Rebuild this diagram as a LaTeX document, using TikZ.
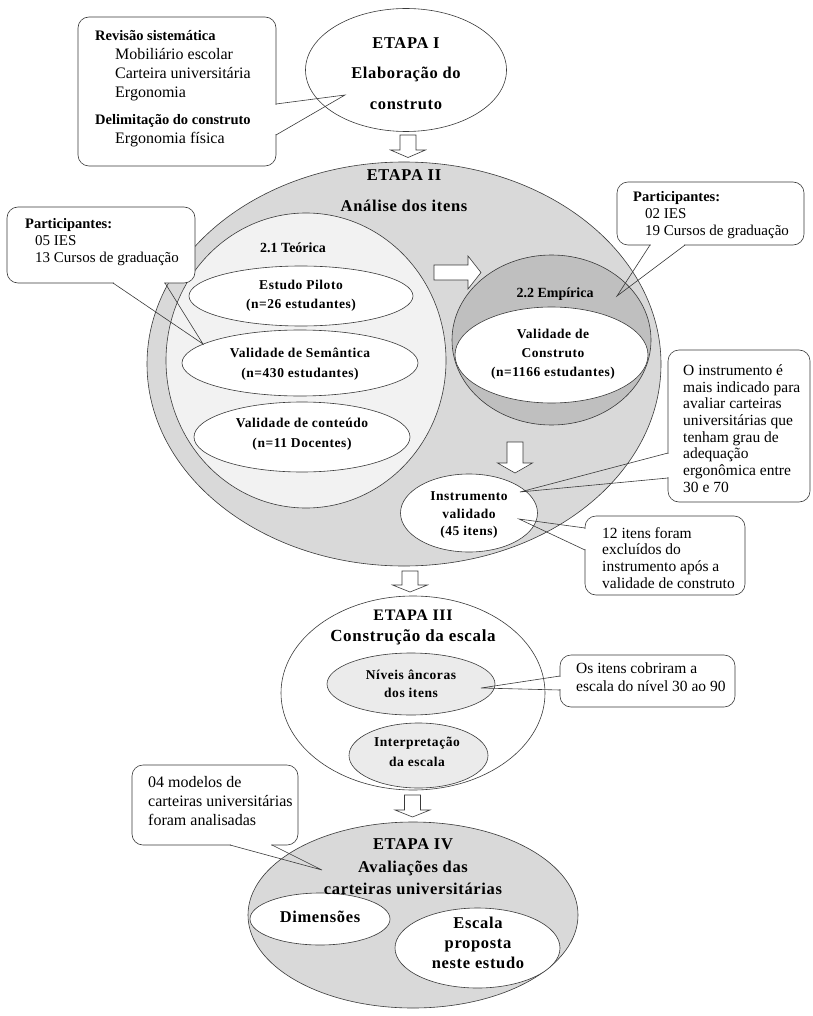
\documentclass[tikz,border=0pt]{standalone}
\usepackage{fontspec}
\setmainfont{Liberation Serif}
\newfontfamily\spacedserif[LetterSpace=4]{Liberation Serif}
\usetikzlibrary{shapes.geometric}

\definecolor{stagegray}{HTML}{D9D9D9}
\definecolor{theorygray}{HTML}{F2F2F2}
\definecolor{empgray}{HTML}{BFBFBF}
\definecolor{anchorgray}{HTML}{EBEBEB}
\definecolor{linegray}{HTML}{3A3A3A}

\tikzset{
  blob/.style={ellipse, draw=linegray, line width=0.6pt, inner sep=0pt},
  bigtxt/.style={font=\spacedserif\bfseries\fontsize{16.5}{#1}\selectfont, align=center, inner sep=0pt},
  bigtxt/.default=20,
  midtxt/.style={font=\spacedserif\bfseries\fontsize{13.5}{#1}\selectfont, align=center, inner sep=0pt},
  midtxt/.default=19,
  notetxt/.style={font=\fontsize{15.5}{#1}\selectfont, align=left, inner sep=0pt, anchor=west},
  notetxt/.default=16.8,
  partnote/.style={font=\fontsize{15}{17}\selectfont, align=left, inner sep=0pt, anchor=west},
  widenote/.style={font=\fontsize{16}{19}\selectfont, align=left, inner sep=0pt, anchor=west},
  notebox/.style={draw=linegray, fill=white, line width=0.6pt, rounded corners=11pt},
  pointer/.style={draw=linegray, line width=0.6pt, line join=miter},
  gapline/.style={draw=white, line width=1.6pt},
  hollow/.style={draw=linegray, fill=white, line width=0.6pt, line join=miter},
}

% hollow downward block arrow: x, top, head base, tip
\newcommand{\hollowdown}[4]{%
  \draw[hollow] (#1-8,#2) -- (#1+8,#2) -- (#1+8,#3) -- (#1+17.5,#3)
    -- (#1,#4) -- (#1-17.5,#3) -- (#1-8,#3) -- cycle;}
% bold heading line inside the notes
\newcommand{\notehead}[1]{{\fontsize{14.5}{19}\selectfont\bfseries #1}}

\begin{document}
\begin{tikzpicture}[x=1pt,y=-1pt]
\useasboundingbox (0,0) rectangle (812,1016);
\fill[white] (0,0) rectangle (812,1016);

% ---------- stage I ----------
\node[blob, fill=white, minimum width=201pt, minimum height=123pt] (etapaI) at (406,70) {};

% ---------- stage II ----------
\node[blob, fill=stagegray, minimum width=514pt, minimum height=404pt] (etapaII) at (404,364) {};
\node[blob, fill=theorygray, minimum width=280pt, minimum height=295pt] (teorica) at (306,360.5) {};
\node[blob, fill=white, minimum width=224pt, minimum height=60pt] (piloto) at (301,296) {};
\node[blob, fill=white, minimum width=236pt, minimum height=66pt] (semantica) at (300,363) {};
\node[blob, fill=white, minimum width=216pt, minimum height=70pt] (conteudo) at (302,437) {};
\node[blob, fill=empgray, minimum width=199pt, minimum height=170pt] (empirica) at (551.5,340) {};
\node[blob, fill=white, minimum width=193pt, minimum height=96pt] (construto) at (551.5,355) {};
\node[blob, fill=white, minimum width=137pt, minimum height=78pt] (instrumento) at (469,513) {};

% ---------- stage III ----------
\node[blob, fill=white, minimum width=264pt, minimum height=194pt] (etapaIII) at (413,693) {};
\node[blob, fill=anchorgray, minimum width=168pt, minimum height=62pt] (niveis) at (411,684) {};
\node[blob, fill=anchorgray, minimum width=139pt, minimum height=65pt] (interp) at (418.5,755.5) {};

% ---------- stage IV ----------
\node[blob, fill=stagegray, minimum width=330pt, minimum height=186pt] (etapaIV) at (413,915) {};
\node[blob, fill=white, minimum width=140pt, minimum height=52pt] (dimensoes) at (320,919) {};
\node[blob, fill=white, minimum width=165pt, minimum height=80pt] (escala) at (477.5,948) {};

% ---------- block arrows ----------
\hollowdown{408}{135}{150}{157.5}
\draw[hollow] (434,265) -- (468,265) -- (468,256) -- (481,272.5) -- (468,289) -- (468,280) -- (434,280) -- cycle;
\hollowdown{515}{442}{463}{473}
\hollowdown{410}{571}{585}{592}
\hollowdown{412.5}{795}{810}{817}

% ---------- callouts ----------
\coordinate (tipRevisao) at (345,95);
\draw[notebox] (78,17) rectangle (276,166);
\draw[gapline] (276,105) -- (276,134);
\draw[pointer] (276,104) -- (tipRevisao) -- (276,135);

\coordinate (tipTeor) at (203,344);
\draw[notebox] (7,207) rectangle (195,283);
\draw[gapline] (114,283) -- (164,283);
\draw[pointer] (113,283) -- (tipTeor) -- (165,283);

\coordinate (tipEmp) at (617,296);
\draw[notebox] (617,182) rectangle (804,245);
\draw[gapline] (651,245) -- (684,245);
\draw[pointer] (650,245) -- (tipEmp) -- (685,245);

\coordinate (tipInstA) at (520,492);
\draw[notebox] (668,350) rectangle (810,502);
\draw[gapline] (668,454) -- (668,477);
\draw[pointer] (668,453) -- (tipInstA) -- (668,478);

\coordinate (tipInstB) at (519,519);
\draw[notebox] (585,516) rectangle (745,595);
\draw[gapline] (585,529) -- (585,549);
\draw[pointer] (585,528) -- (tipInstB) -- (585,550);

\coordinate (tipNiveis) at (481,688);
\draw[notebox] (560,655) rectangle (735,707);
\draw[gapline] (560,677) -- (560,689);
\draw[pointer] (560,676) -- (tipNiveis) -- (560,690);

\coordinate (tipAval) at (322,870);
\draw[notebox] (132,765) rectangle (298,845);
\draw[gapline] (231,845) -- (271,845);
\draw[pointer] (230,845) -- (tipAval) -- (272,845);

% ---------- texts ----------
\node[bigtxt=30.5] (tI) at (etapaI.center) [yshift=-3.5pt] {ETAPA I\\Elaboração do\\construto};
\node[bigtxt=31] (tII) at (404,190.5) {ETAPA II\\Análise dos itens};
\node[font=\bfseries\fontsize{14}{17}\selectfont, inner sep=0pt] (tTeor) at (293,248) {2.1 Teórica};
\node[midtxt] (tPil) at (piloto.center) {Estudo Piloto\\(n=26 estudantes)};
\node[midtxt=20] (tSem) at (semantica.center) [yshift=-1pt] {Validade de Semântica\\(n=430 estudantes)};
\node[midtxt=20] (tCont) at (302,434) {Validade de conteúdo\\(n=11 Docentes)};
\node[font=\bfseries\fontsize{14}{17}\selectfont, inner sep=0pt] (tEmp) at (555,294) {2.2 Empírica};
\node[midtxt] (tCons) at (553,354) {Validade de\\Construto\\(n=1166 estudantes)};
\node[midtxt=17.5] (tInst) at (469,515.5) {Instrumento\\validado\\(45 itens)};

\node[font=\spacedserif\bfseries\fontsize{16}{21}\selectfont, align=center, inner sep=0pt] (tIII) at (413,627.5)
  {ETAPA III\\{\fontsize{17}{21}\selectfont Construção da escala}};
\node[midtxt=18] (tNiv) at (411,684) {Níveis âncoras\\dos itens};
\node[midtxt=20] (tInt) at (417,752) {Interpretação\\da escala};

\node[bigtxt=22.5] (tIV) at (413,867) {ETAPA IV\\Avaliações das\\carteiras universitárias};
\node[font=\spacedserif\bfseries\fontsize{16.5}{20}\selectfont, inner sep=0pt] (tDim) at (320,917) {Dimensões};
\node[font=\spacedserif\bfseries\fontsize{16.5}{20}\selectfont, align=center, inner sep=0pt] (tEsc) at (478,943) {Escala\\proposta\\neste estudo};

\node[widenote] (nRev) at (95,89) {\notehead{Revisão sistemática}\\
  \hspace*{20pt}Mobiliário escolar\\
  \hspace*{20pt}Carteira universitária\\
  \hspace*{20pt}Ergonomia\\[8pt]
  \notehead{Delimitação do construto}\\
  \hspace*{20pt}Ergonomia física};
\node[partnote] (nTeor) at (25,242) {\notehead{Participantes:}\\
  \hspace*{10pt}05 IES\\
  \hspace*{10pt}13 Cursos de graduação};
\node[partnote] (nEmp) at (633,215) {\notehead{Participantes:}\\
  \hspace*{12pt}02 IES\\
  \hspace*{12pt}19 Cursos de graduação};
\node[notetxt=16.7] (nInstA) at (683,428.5) {O instrumento é\\mais indicado para\\avaliar carteiras\\universitárias que\\tenham grau de\\adequação\\ergonômica entre\\30 e 70};
\node[notetxt=16.8] (nInstB) at (602,558) {12 itens foram\\excluídos do\\instrumento após a\\validade de construto};
\node[notetxt=18] (nNiv) at (576,677) {Os itens cobriram a\\escala do nível 30 ao 90};
\node[widenote] (nAval) at (148,801) {04 modelos de\\carteiras universitárias\\foram analisadas};
\end{tikzpicture}
\end{document}
